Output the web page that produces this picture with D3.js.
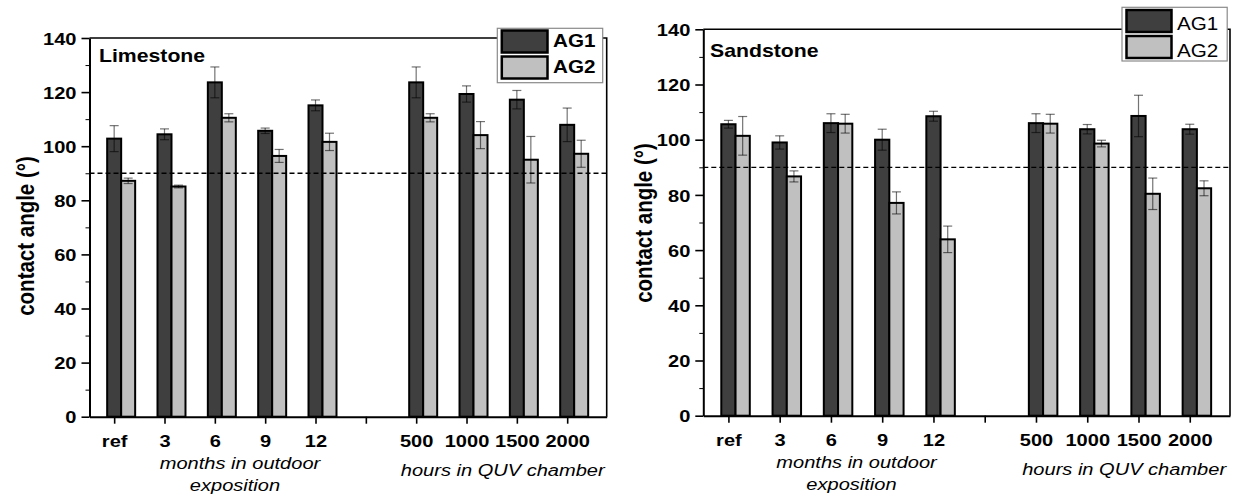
<!DOCTYPE html>
<html>
<head>
	<title>contact angle - limestone / sandstone</title>
	<script src="https://d3js.org/d3.v7.min.js"></script>
	<style>
		body { margin: 0; background: white; }
		text { font-family: "Liberation Sans", Arial, sans-serif; fill: black; }
		.axis path, .axis line { stroke: black; }
	</style>
</head>

<body>
<svg width="1246" height="499"></svg>

<script type="text/javascript">
// categories on the x axis (slot 5 is the empty gap between the two series of tests)
var categories = ["ref", "3", "6", "9", "12", "500", "1000", "1500", "2000"];
var slots = [0, 1, 2, 3, 4, 6, 7, 8, 9];
var groupLabels = ["months in outdoor", "exposition", "hours in QUV chamber"];
var seriesNames = ["AG1", "AG2"];
var yTicks = [0, 20, 40, 60, 80, 100, 120, 140];

var limestoneAG1 = [102.8, 104.4, 123.6, 105.7, 115.1, 123.6, 119.3, 117.2, 107.9];
var limestoneAG1Err = [4.8, 2.0, 5.7, 1.0, 2.0, 5.7, 3.0, 3.4, 6.2];
var limestoneAG2 = [87.2, 85.1, 110.5, 96.4, 101.6, 110.5, 104.1, 95.0, 97.2];
var limestoneAG2Err = [1.0, 0.5, 1.5, 2.4, 3.2, 1.5, 5.0, 8.6, 5.0];

var sandstoneAG1 = [105.6, 99.0, 106.0, 100.0, 108.5, 106.0, 103.8, 108.6, 103.8];
var sandstoneAG1Err = [1.4, 2.4, 3.4, 3.8, 1.8, 3.4, 1.7, 7.5, 1.8];
var sandstoneAG2 = [101.4, 86.7, 105.8, 77.1, 63.9, 105.8, 98.6, 80.4, 82.4];
var sandstoneAG2Err = [7.0, 2.0, 3.4, 4.0, 4.8, 3.4, 1.2, 5.7, 2.7];

var threshold = 90;

var SX = 1.18; // the original figure is a little wider than tall
var colors = ["#3f3f3f", "#c0c0c0"];

var panels = [
	{ name: "Limestone", values: [limestoneAG1, limestoneAG2], errors: [limestoneAG1Err, limestoneAG2Err],
	  left: 89.5, right: 606.7, top: 38, bottom: 416.7, titleX: 99, titleY: 61.7, yTitleX: 34, yTitleY: 236,
	  legend: { x: 497.3, y: 28.3, w: 105.4, h: 54.4, bold: true, tx: 553, rows: [30.5, 56.5], base: [46.7, 73] } },
	{ name: "Sandstone", values: [sandstoneAG1, sandstoneAG2], errors: [sandstoneAG1Err, sandstoneAG2Err],
	  left: 703.3, right: 1230, top: 29.3, bottom: 415.7, titleX: 710, titleY: 57.3, yTitleX: 652, yTitleY: 223,
	  legend: { x: 1122, y: 7.3, w: 105.2, h: 53.7, bold: false, tx: 1177, rows: [10, 36], base: [30, 56.7] } }
];

var svg = d3.select('svg');

function addText(g, x, y, str, size, weight, style, anchor) {
	return g.append('text')
		.attr('transform', 'translate(' + x + ',' + y + ') scale(' + SX + ',1)')
		.attr('font-size', size)
		.attr('font-weight', weight)
		.attr('font-style', style)
		.attr('text-anchor', anchor)
		.text(str);
}

panels.forEach(function(p) {
	var g = svg.append('g');

	var x = d3.scaleLinear().domain([-0.49, 9.785]).range([p.left, p.right]);
	var y = d3.scaleLinear().domain([0, 140]).range([p.bottom, p.top]);
	var step = x(1) - x(0);
	var barW = step * 0.278;

	// bars
	p.values.forEach(function(vals, s) {
		g.selectAll(null)
			.data(vals)
			.enter()
			.append('rect')
			.attr('x', function(d, i) { return x(slots[i]) - barW / 2 + s * barW; })
			.attr('y', function(d) { return y(d); })
			.attr('width', barW)
			.attr('height', function(d) { return y(0) - y(d); })
			.attr('fill', colors[s])
			.attr('stroke', 'black')
			.attr('stroke-width', 2);
	});

	// error bars
	p.values.forEach(function(vals, s) {
		var errs = p.errors[s];
		var eg = g.append('g')
			.attr('stroke', 'black')
			.attr('stroke-opacity', 0.55)
			.attr('stroke-width', 1.2);
		vals.forEach(function(v, i) {
			var cx = x(slots[i]) + s * barW;
			eg.append('line')
				.attr('x1', cx).attr('x2', cx)
				.attr('y1', y(v + errs[i])).attr('y2', y(v - errs[i]));
			[v + errs[i], v - errs[i]].forEach(function(e) {
				eg.append('line')
					.attr('x1', cx - 4.5).attr('x2', cx + 4.5)
					.attr('y1', y(e)).attr('y2', y(e));
			});
		});
	});

	// 90 degree line
	g.append('line')
		.attr('x1', p.left).attr('x2', p.right)
		.attr('y1', y(threshold)).attr('y2', y(threshold))
		.attr('stroke', 'black')
		.attr('stroke-width', 1.3)
		.attr('stroke-dasharray', '5,3');

	// frame top/right
	g.append('path')
		.attr('d', 'M' + p.left + ',' + p.top + 'H' + p.right + 'V' + p.bottom)
		.attr('fill', 'none')
		.attr('stroke', 'black')
		.attr('stroke-width', 1.6);

	// y axis
	var yAxis = g.append('g')
		.attr('class', 'axis')
		.attr('transform', 'translate(' + p.left + ',0)')
		.call(d3.axisLeft(y).tickValues(yTicks).tickSize(8).tickSizeOuter(0));
	g.append('g')
		.attr('class', 'axis')
		.attr('transform', 'translate(' + p.left + ',0)')
		.call(d3.axisLeft(y).tickValues([10, 30, 50, 70, 90, 110, 130]).tickSize(4).tickFormat(''))
		.select('.domain').remove();
	yAxis.selectAll('line').attr('stroke-width', 1.6);
	yAxis.select('.domain').attr('stroke-width', 2);
	yAxis.selectAll('text')
		.attr('x', -13 / SX)
		.attr('dy', '0.36em')
		.attr('transform', 'scale(' + SX + ',1)')
		.attr('font-size', 17)
		.attr('font-weight', 'bold')
		.attr('font-family', null);

	// x axis
	var xAxis = g.append('g')
		.attr('class', 'axis')
		.attr('transform', 'translate(0,' + p.bottom + ')')
		.call(d3.axisBottom(x)
			.tickValues(d3.range(10))
			.tickSize(7)
			.tickSizeOuter(0)
			.tickFormat(function(d) {
				var k = slots.indexOf(d);
				return k < 0 ? '' : categories[k];
			}));
	xAxis.selectAll('line').attr('stroke-width', 1.6);
	xAxis.select('.domain').attr('stroke-width', 2);
	xAxis.selectAll('text')
		.attr('y', 30)
		.attr('dy', 0)
		.attr('transform', 'scale(' + SX + ',1)')
		.attr('font-size', 17)
		.attr('font-weight', 'bold')
		.attr('font-family', null);

	// group captions
	addText(g, x(2.5), p.bottom + 52, groupLabels[0], 17, 'normal', 'italic', 'middle');
	addText(g, x(2.4), p.bottom + 74.5, groupLabels[1], 17, 'normal', 'italic', 'middle');
	addText(g, x(7.72), p.bottom + 59, groupLabels[2], 17, 'normal', 'italic', 'middle');

	// panel name and y title
	addText(g, p.titleX, p.titleY, p.name, 18, 'bold', 'normal', 'start');
	g.append('text')
		.attr('transform', 'translate(' + p.yTitleX + ',' + p.yTitleY + ') scale(' + SX + ',1) rotate(-90)')
		.attr('font-size', 20.5)
		.attr('font-weight', 'bold')
		.attr('text-anchor', 'middle')
		.text('contact angle (°)');

	// legend
	var L = p.legend;
	g.append('rect')
		.attr('x', L.x).attr('y', L.y)
		.attr('width', L.w).attr('height', L.h)
		.attr('fill', 'white')
		.attr('stroke', '#8a8a8a')
		.attr('stroke-width', 1.2);
	seriesNames.forEach(function(name, s) {
		g.append('rect')
			.attr('x', L.x + 4.5).attr('y', L.rows[s])
			.attr('width', L.tx - L.x - 10).attr('height', 22)
			.attr('fill', colors[s])
			.attr('stroke', 'black')
			.attr('stroke-width', 2.5);
		addText(g, L.tx, L.base[s], name, 17.5, L.bold ? 'bold' : 'normal', 'normal', 'start');
	});
});
</script>

</body>
</html>
